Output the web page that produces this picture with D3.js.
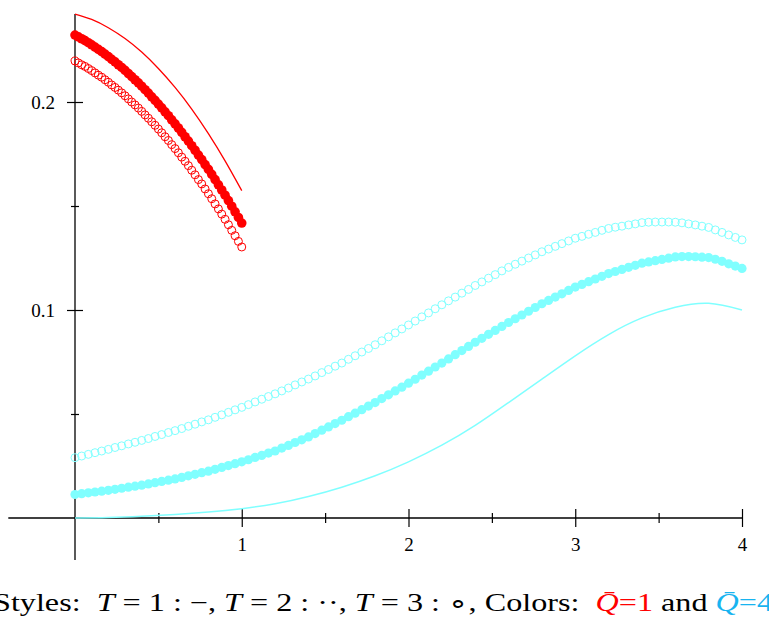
<!DOCTYPE html>
<html>
<head>
<meta charset="utf-8">
<script src="https://cdn.jsdelivr.net/npm/d3@7"></script>
<style>
  body { margin: 0; background: #fff; }
  svg { display: block; }
</style>
</head>
<body>
<script>
// red = Qbar 1, sampled on [0,1]; cyan = Qbar 4, sampled on [0,4]
var redStep = 0.02, redLineStep = 0.1;
var cyanStep = 0.04, cyanLineStep = 0.2;

var redLine = [0.2423, 0.2397, 0.2357, 0.2305, 0.2240, 0.2161, 0.2070, 0.1966, 0.1848, 0.1717, 0.1574];

var redDots = [0.2322, 0.2313, 0.2304, 0.2295, 0.2285, 0.2275, 0.2264, 0.2253, 0.2242, 0.2230,
  0.2218, 0.2205, 0.2193, 0.2179, 0.2166, 0.2152, 0.2137, 0.2122, 0.2107, 0.2092,
  0.2076, 0.2059, 0.2043, 0.2025, 0.2008, 0.1990, 0.1972, 0.1953, 0.1934, 0.1914,
  0.1895, 0.1875, 0.1854, 0.1833, 0.1812, 0.1790, 0.1768, 0.1745, 0.1723, 0.1699,
  0.1676, 0.1652, 0.1627, 0.1602, 0.1577, 0.1552, 0.1526, 0.1499, 0.1472, 0.1445, 0.1418];

var redRings = [0.2197, 0.2188, 0.2179, 0.2171, 0.2161, 0.2151, 0.2140, 0.2129, 0.2119, 0.2107,
  0.2095, 0.2082, 0.2070, 0.2057, 0.2044, 0.2030, 0.2015, 0.2000, 0.1986, 0.1971,
  0.1955, 0.1938, 0.1922, 0.1905, 0.1888, 0.1870, 0.1852, 0.1833, 0.1815, 0.1795,
  0.1776, 0.1756, 0.1735, 0.1715, 0.1694, 0.1672, 0.1650, 0.1627, 0.1606, 0.1582,
  0.1559, 0.1535, 0.1510, 0.1486, 0.1461, 0.1436, 0.1410, 0.1383, 0.1357, 0.1330, 0.1303];

var cyanLine = [0, 0.0002, 0.0008, 0.0017, 0.0029, 0.0045, 0.0068, 0.0103, 0.0148, 0.0203,
  0.0270, 0.0350, 0.0445, 0.0555, 0.0668, 0.0780, 0.0882, 0.0962, 0.1013, 0.1032, 0.1000];

var cyanDots = [0.0113, 0.0117, 0.0121, 0.0125, 0.0129, 0.0133, 0.0138, 0.0143, 0.0148, 0.0153,
  0.0158, 0.0164, 0.0170, 0.0176, 0.0182, 0.0188, 0.0195, 0.0203, 0.0210, 0.0218,
  0.0225, 0.0234, 0.0243, 0.0252, 0.0261, 0.0270, 0.0280, 0.0291, 0.0301, 0.0312,
  0.0322, 0.0336, 0.0349, 0.0363, 0.0376, 0.0390, 0.0406, 0.0422, 0.0438, 0.0454,
  0.0470, 0.0487, 0.0504, 0.0521, 0.0538, 0.0555, 0.0574, 0.0592, 0.0611, 0.0629,
  0.0648, 0.0667, 0.0687, 0.0706, 0.0726, 0.0745, 0.0765, 0.0785, 0.0805, 0.0825,
  0.0845, 0.0864, 0.0883, 0.0902, 0.0921, 0.0940, 0.0958, 0.0976, 0.0994, 0.1012,
  0.1030, 0.1046, 0.1062, 0.1078, 0.1094, 0.1110, 0.1123, 0.1136, 0.1149, 0.1162,
  0.1175, 0.1185, 0.1195, 0.1205, 0.1215, 0.1225, 0.1231, 0.1237, 0.1243, 0.1249,
  0.1255, 0.1257, 0.1257, 0.1256, 0.1254, 0.1252, 0.1244, 0.1234, 0.1222, 0.1211, 0.1200];

var cyanRings = [0.0290, 0.0298, 0.0306, 0.0314, 0.0322, 0.0330, 0.0339, 0.0347, 0.0356, 0.0364,
  0.0373, 0.0382, 0.0392, 0.0401, 0.0411, 0.0420, 0.0430, 0.0441, 0.0451, 0.0462,
  0.0472, 0.0484, 0.0496, 0.0508, 0.0520, 0.0532, 0.0545, 0.0558, 0.0571, 0.0584,
  0.0597, 0.0611, 0.0625, 0.0640, 0.0654, 0.0668, 0.0683, 0.0699, 0.0714, 0.0730,
  0.0745, 0.0763, 0.0780, 0.0798, 0.0815, 0.0833, 0.0852, 0.0871, 0.0890, 0.0909,
  0.0928, 0.0947, 0.0967, 0.0986, 0.1006, 0.1025, 0.1044, 0.1062, 0.1081, 0.1099,
  0.1118, 0.1135, 0.1153, 0.1170, 0.1188, 0.1205, 0.1220, 0.1235, 0.1250, 0.1265,
  0.1280, 0.1293, 0.1306, 0.1319, 0.1332, 0.1345, 0.1354, 0.1364, 0.1373, 0.1383,
  0.1392, 0.1398, 0.1403, 0.1409, 0.1414, 0.1420, 0.1422, 0.1423, 0.1423, 0.1423,
  0.1422, 0.1419, 0.1414, 0.1409, 0.1403, 0.1397, 0.1385, 0.1373, 0.1361, 0.1349, 0.1337];

var xTicks = [0.5, 1, 1.5, 2, 2.5, 3, 3.5, 4];
var yTicks = [0.05, 0.1, 0.15, 0.2];

var red = "#ff0000", cyan = "#80ffff", blueText = "#18b4f0";

var svg = d3.select("body").append("svg").attr("width", 769).attr("height", 617);

var x = d3.scaleLinear().domain([-0.4, 4]).range([8.3, 742]);
var y = d3.scaleLinear().domain([0, 0.2]).range([518, 102]);

function pts(vals, step) {
  return vals.map(function(v, i) { return [i * step, v]; });
}

// axes
var xAxis = svg.append("g").attr("transform", "translate(0," + y(0) + ")")
  .call(d3.axisBottom(x).tickValues(xTicks)
    .tickFormat(function(d) { return d % 1 === 0 ? d : ""; }));
xAxis.select(".domain").remove();
xAxis.selectAll(".tick line")
  .attr("y1", function(d) { return d % 1 === 0 ? -9 : -5; })
  .attr("y2", function(d) { return d % 1 === 0 ? 9 : 5; })
  .attr("stroke-width", 1.2);
xAxis.selectAll(".tick text").attr("y", 20).attr("dy", "0.71em");
xAxis.append("line").attr("x1", x(-0.4)).attr("x2", x(4))
  .attr("stroke", "#000").attr("stroke-width", 1.3);

var yAxis = svg.append("g").attr("transform", "translate(" + x(0) + ",0)")
  .call(d3.axisLeft(y).tickValues(yTicks)
    .tickFormat(function(d) { return Math.abs(d * 10 % 1) < 1e-9 ? d : ""; }));
yAxis.select(".domain").remove();
yAxis.selectAll(".tick line")
  .attr("x1", function(d, i) { return i % 2 ? -8 : -4; })
  .attr("x2", function(d, i) { return i % 2 ? 8 : 4; })
  .attr("stroke-width", 1.2);
yAxis.selectAll(".tick text").attr("x", -20);
yAxis.append("line").attr("y1", 14).attr("y2", 560)
  .attr("stroke", "#000").attr("stroke-width", 1.3);

svg.selectAll(".tick text")
  .attr("font-family", "'Liberation Serif', serif")
  .attr("font-size", 19).attr("fill", "#000");

// curves
var line = d3.line()
  .x(function(d) { return x(d[0]); })
  .y(function(d) { return y(d[1]); })
  .curve(d3.curveNatural);

svg.append("path").datum(pts(redLine, redLineStep)).attr("d", line)
  .attr("fill", "none").attr("stroke", red).attr("stroke-width", 1.3);
svg.append("path").datum(pts(cyanLine, cyanLineStep)).attr("d", line)
  .attr("fill", "none").attr("stroke", cyan).attr("stroke-width", 1.5);

function dots(data, color, r, filled) {
  svg.append("g").selectAll("circle").data(data).enter().append("circle")
    .attr("cx", function(d) { return x(d[0]); })
    .attr("cy", function(d) { return y(d[1]); })
    .attr("r", r)
    .attr("fill", filled ? color : "none")
    .attr("stroke", color)
    .attr("stroke-width", filled ? 0 : 1);
}
dots(pts(redDots, redStep), red, 4.8, true);
dots(pts(redRings, redStep), red, 4, false);
dots(pts(cyanDots, cyanStep), cyan, 4.6, true);
dots(pts(cyanRings, cyanStep), cyan, 4, false);

// caption
var cap = svg.append("text").attr("x", 383).attr("y", 611)
  .attr("text-anchor", "middle")
  .attr("font-family", "'Liberation Serif', serif")
  .attr("font-size", 25).attr("fill", "#000")
  .attr("textLength", 780).attr("lengthAdjust", "spacingAndGlyphs");
var parts = [
  ["Styles:  ", null, false], ["T", null, true], [" = 1 : \u2212, ", null, false],
  ["T", null, true], [" = 2 : \u00B7\u00B7, ", null, false],
  ["T", null, true], [" = 3 : \u2218, Colors:  ", null, false],
  ["Q\u0304", red, true], ["=1", red, false], [" and ", null, false],
  ["Q\u0304", blueText, true], ["=4", blueText, false]
];
cap.selectAll("tspan").data(parts).enter().append("tspan")
  .attr("font-style", function(d) { return d[2] ? "italic" : "normal"; })
  .attr("fill", function(d) { return d[1] || "#000"; })
  .attr("xml:space", "preserve")
  .text(function(d) { return d[0]; });
</script>
</body>
</html>
